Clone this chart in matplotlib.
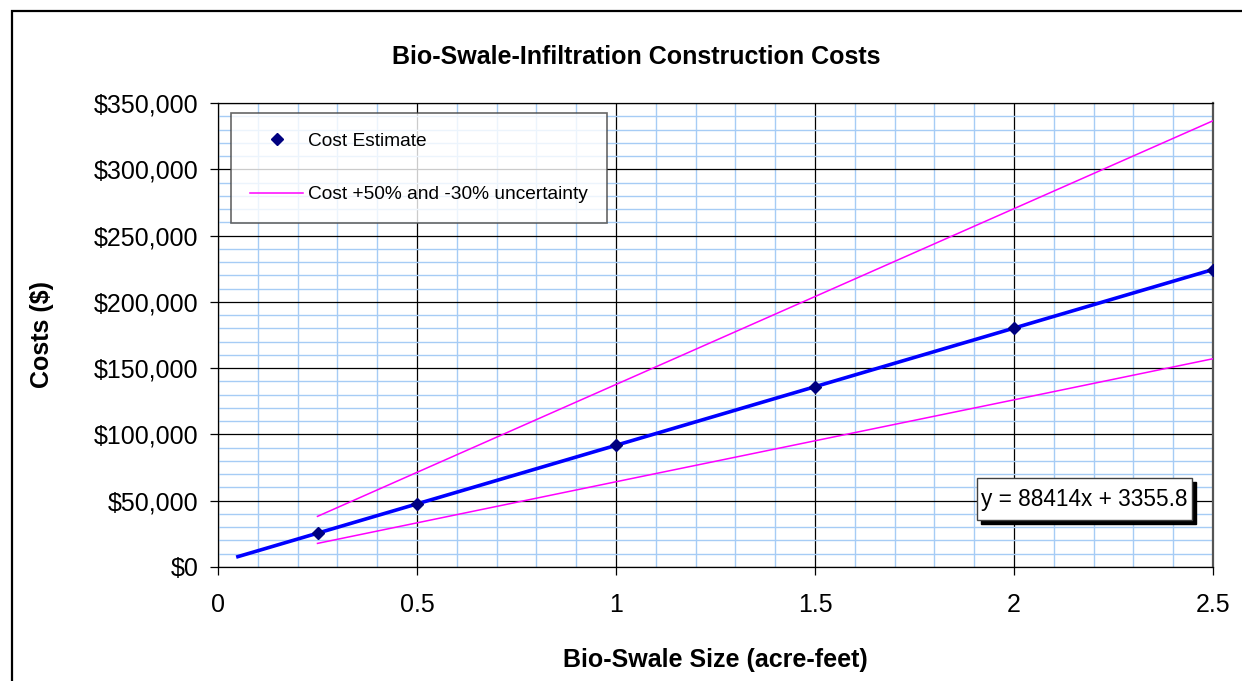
import numpy as np
import matplotlib
matplotlib.use("Agg")
import matplotlib.pyplot as plt
from matplotlib.ticker import MultipleLocator, FuncFormatter
from matplotlib.patches import Rectangle

plt.rcParams['font.family'] = ['Liberation Sans', 'DejaVu Sans']

# data
size_af = [0.25, 0.5, 1.0, 1.5, 2.0, 2.5]
cost_est = [25500, 47600, 91800, 136000, 180200, 224400]
cost_high = [38200, 71400, 137700, 204000, 270300, 336600]
cost_low = [17800, 33300, 64300, 95200, 126100, 157100]
trend_x = [0.05, 2.5]
equation = "y = 88414x + 3355.8"

fig = plt.figure(figsize=(12.42, 6.81), dpi=100)
ax = fig.add_axes([218/1242, 1 - 567/681, 995/1242, 464/681])

# outer chart border (only top and left edges fall inside the image)
fig.patches.append(Rectangle((12/1242, -0.05), 1.2, 1 - 11/681 + 0.05,
                             transform=fig.transFigure, fill=False,
                             edgecolor='black', linewidth=1.6))

# trend line from a linear fit of the estimates
slope, icpt = np.polyfit(size_af, cost_est, 1)
tx = np.array(trend_x)
ax.plot(tx, slope * tx + icpt, color='#0000FF', lw=2.6, zorder=4)

ax.plot(size_af, cost_high, color='#FF00FF', lw=1.1, zorder=3,
        label='Cost +50% and -30% uncertainty')
ax.plot(size_af, cost_low, color='#FF00FF', lw=1.1, zorder=3)
ax.plot(size_af, cost_est, linestyle='none', marker='D', ms=6.5,
        color='#000080', zorder=5, label='Cost Estimate')

ax.set_xlim(0, 2.5)
ax.set_ylim(0, 350000)
ax.xaxis.set_major_locator(MultipleLocator(0.5))
ax.xaxis.set_minor_locator(MultipleLocator(0.1))
ax.yaxis.set_major_locator(MultipleLocator(50000))
ax.yaxis.set_minor_locator(MultipleLocator(10000))
ax.xaxis.set_major_formatter(FuncFormatter(lambda v, p: f"{v:g}"))
ax.yaxis.set_major_formatter(FuncFormatter(lambda v, p: f"${v:,.0f}"))

ax.grid(which='minor', color='#A6CCF5', lw=1.0, zorder=0)
ax.grid(which='major', color='black', lw=0.9, zorder=1)
ax.set_axisbelow(True)
ax.tick_params(which='major', direction='out', length=6, width=0.9,
               labelsize=18)
ax.tick_params(axis='x', which='major', pad=13)
ax.tick_params(axis='y', which='major', pad=8)
ax.tick_params(which='minor', length=0)
for s in ax.spines.values():
    s.set_linewidth(0.9)
ax.spines['right'].set_color('#555555')
ax.spines['right'].set_linewidth(1.6)

ax.set_title('Bio-Swale-Infiltration Construction Costs', fontsize=18,
             fontweight='bold', pad=28, x=(636 - 218) / 995)
ax.set_xlabel('Bio-Swale Size (acre-feet)', fontsize=18,
              fontweight='bold', labelpad=22)
ax.set_ylabel('Costs ($)', fontsize=18, fontweight='bold', labelpad=29)

h, l = ax.get_legend_handles_labels()
leg = ax.legend(h[::-1], l[::-1], loc='upper left',
                bbox_to_anchor=(13/995, 1 - 10/464), fontsize=13.8,
                frameon=True, fancybox=False, edgecolor='#404040',
                labelspacing=1.9, borderpad=1.0, handlelength=2.75,
                handletextpad=0.28, borderaxespad=0)
leg.get_frame().set_linewidth(1.2)

# equation label with drop shadow (box corners taken from the chart)
bx0, bx1 = 1.907, 2.447
by0, by1 = 35450, 67130
dx, dy = 0.011, 3000
ax.add_patch(Rectangle((bx0 + dx, by0 - dy), bx1 - bx0, by1 - by0,
                       facecolor='black', edgecolor='black', zorder=6))
ax.add_patch(Rectangle((bx0, by0), bx1 - bx0, by1 - by0,
                       facecolor='white', edgecolor='#404040', lw=1.0,
                       zorder=7))
ax.text((bx0 + bx1) / 2, (by0 + by1) / 2, equation, fontsize=16.3,
        ha='center', va='center', zorder=8)

fig.savefig('out.png', dpi=100)
